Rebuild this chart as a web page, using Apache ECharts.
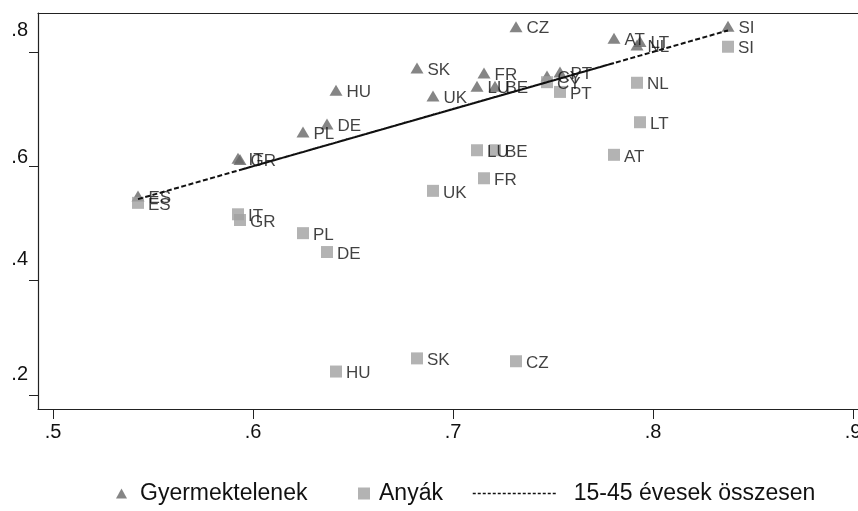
<!DOCTYPE html>
<html>
<head>
<meta charset="utf-8">
<script src="https://cdn.jsdelivr.net/npm/echarts@6/dist/echarts.min.js"></script>
<style>html,body{margin:0;padding:0;background:#fff}#c{width:858px;height:511px}</style>
</head>
<body>
<div id="c"></div>
<script>
// Country codes (order used to draw the total line)
const countries = ['ES','IT','AT','PL','PT','DE','CY','HU','CZ','SK','BE','UK','FR','LU','GR','NL','LT','SI'];
// 15-45 year-olds total (x axis, also the reference line)
const total     = [0.5425,0.5925,0.7805,0.625,0.7535,0.637,0.747,0.6415,0.7315,0.682,0.721,0.690,0.7155,0.712,0.5935,0.792,0.7935,0.8375];
// Childless (Gyermektelenek)
const childless = [0.548,0.614,0.824,0.660,0.765,0.674,0.758,0.733,0.844,0.772,0.740,0.723,0.763,0.740,0.612,0.812,0.818,0.845];
// Mothers (Anyák)
const mothers   = [0.536,0.516,0.620,0.483,0.730,0.450,0.747,0.241,0.259,0.264,0.628,0.557,0.579,0.628,0.506,0.746,0.677,0.809];

const xTickValues = [0.5,0.6,0.7,0.8,0.9];
const xTickLabels = ['.5','.6','.7','.8','.9'];
const yTickValues = [0.2,0.4,0.6,0.8];
const yTickLabels = ['.2','.4','.6','.8'];

const seriesNames = ['Gyermektelenek','Anyák','15-45 évesek összesen'];

const FONT = "'Liberation Sans', Arial, sans-serif";
const chart = echarts.init(document.getElementById('c'), null, {renderer:'canvas'});

const mk = (ys) => countries.map((c,i)=>({name:c, value:[total[i], ys[i]]}));

chart.setOption({
  animation:false,
  textStyle:{fontFamily:FONT},
  grid:{left:38, top:13, right:0, bottom:102, containLabel:false, outerBoundsMode:'none'},
  xAxis:[{
    type:'value', min:0.4925, max:0.9025,
    axisLine:{show:true, onZero:false, lineStyle:{color:'#222', width:1.2}},
    axisTick:{show:true, length:10, customValues:xTickValues, lineStyle:{color:'#222'}},
    axisLabel:{show:true, margin:13, fontSize:20, color:'#111', customValues:xTickValues,
      formatter:(v)=>{const k=xTickValues.findIndex(t=>Math.abs(t-v)<1e-9);return k>=0?xTickLabels[k]:'';}},
    splitLine:{show:false}
  },{
    type:'value', position:'top', min:0.4925, max:0.9025,
    axisLine:{show:true, onZero:false, lineStyle:{color:'#222', width:1.2}},
    axisTick:{show:false}, axisLabel:{show:false}, splitLine:{show:false}
  }],
  yAxis:{
    type:'value', min:0.1755, max:0.868,
    axisLine:{show:true, onZero:false, lineStyle:{color:'#222', width:1.2}},
    axisTick:{show:true, length:9, customValues:yTickValues, lineStyle:{color:'#222'}},
    axisLabel:{show:true, margin:10, fontSize:20, color:'#111', customValues:yTickValues,
      formatter:(v)=>{const k=yTickValues.findIndex(t=>Math.abs(t-v)<1e-9);if(k<0)return '';return (Math.abs(v-0.6)<1e-9?'{b|':'{a|')+yTickLabels[k]+'}';},
      rich:{a:{fontSize:20,color:'#111',fontFamily:FONT,padding:[0,0,42,0]},b:{fontSize:20,color:'#111',fontFamily:FONT,padding:[0,0,18,0]}}
    },
    splitLine:{show:false}
  },
  legend:[
    {data:[{name:seriesNames[0], icon:'triangle'}], left:111, top:477, itemWidth:11, itemHeight:10,
      textStyle:{fontSize:23, color:'#111', fontFamily:FONT, padding:[0,0,0,8]}},
    {data:[{name:seriesNames[1], icon:'rect'}], left:353, top:477, itemWidth:12, itemHeight:12,
      textStyle:{fontSize:23, color:'#111', fontFamily:FONT, padding:[0,0,0,4]}},
    {data:[seriesNames[2]], left:467, top:477, itemWidth:85, itemHeight:10,
      lineStyle:{type:[3,2], width:1.5, color:'#111'},
      itemStyle:{color:'rgba(0,0,0,0)', borderWidth:0},
      textStyle:{fontSize:23, color:'#111', fontFamily:FONT, padding:[0,0,0,11]}}
  ],
  series:[
    {name:seriesNames[0], type:'scatter', symbol:'triangle', symbolSize:[13,11], z:2,
      itemStyle:{color:'#666'}, data:mk(childless),
      label:{show:true, position:'right', distance:4, offset:[0,2], formatter:'{b}', fontSize:17, color:'#111', fontFamily:FONT}},
    {name:seriesNames[1], type:'scatter', symbol:'rect', symbolSize:12, z:2,
      itemStyle:{color:'#a0a0a0'}, data:mk(mothers),
      label:{show:true, position:'right', distance:4, offset:[0,2], formatter:'{b}', fontSize:17, color:'#111', fontFamily:FONT}},
    {name:seriesNames[2], type:'line', symbol:'none', z:5, smooth:false,
      lineStyle:{color:'#111', width:2, type:[5,2.5]}, itemStyle:{color:'#111'},
      data:countries.map((c,i)=>[total[i], total[i]])}
  ]
});
</script>
</body>
</html>
